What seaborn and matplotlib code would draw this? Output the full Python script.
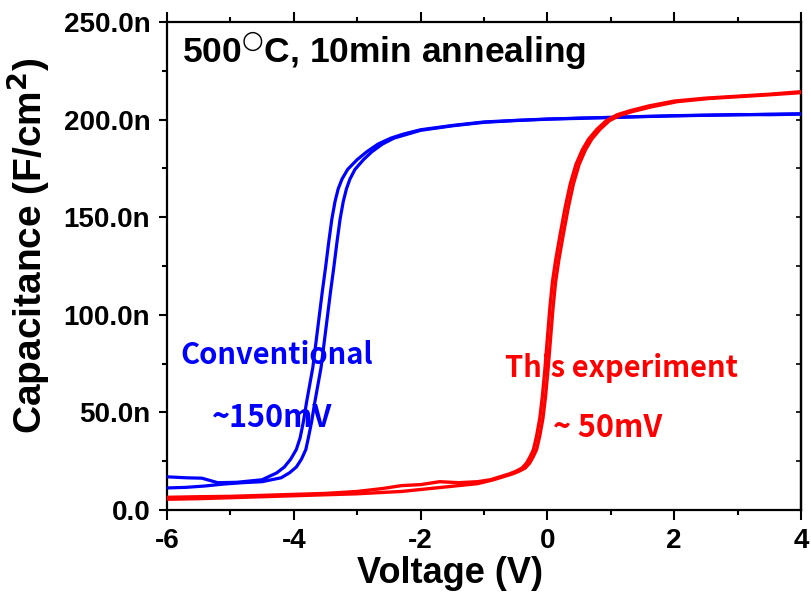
import numpy as np
import pandas as pd
import matplotlib
matplotlib.use("Agg")
import matplotlib.pyplot as plt
from matplotlib.ticker import FixedLocator, FixedFormatter, MultipleLocator
import seaborn as sns

# ---------------- data (capacitance in nF/cm^2) ----------------
blue_a_v = [-6.0, -5.7, -5.45, -5.2, -4.9, -4.5, -4.27, -4.15, -4.05, -3.96, -3.90, -3.85,
            -3.80, -3.75, -3.70, -3.65, -3.60, -3.55, -3.50, -3.45, -3.40, -3.35, -3.30,
            -3.24, -3.15, -3.00, -2.85, -2.67, -2.47, -2.27, -2.0, -1.5, -1.0, -0.5,
            0.0, 0.5, 1.0, 1.5, 2.0, 2.5, 3.0, 3.5, 4.0]
blue_a_c = [17.0, 16.5, 16.3, 14.0, 14.2, 15.5, 19.0, 22.0, 26.0, 31.0, 37.0, 45.0,
            55.0, 64.0, 73.0, 86.0, 99.0, 112.0, 124.0, 137.0, 149.0, 158.0, 164.5,
            169.5, 174.5, 179.5, 183.5, 187.5, 190.5, 192.6, 194.8, 197.0, 198.8, 199.6,
            200.3, 200.6, 201.2, 201.5, 201.9, 202.2, 202.4, 202.8, 203.0]
blue_b_v = [-6.0, -5.7, -5.4, -5.1, -4.8, -4.5, -4.2, -4.07, -3.96, -3.88, -3.81, -3.77,
            -3.72, -3.67, -3.62, -3.57, -3.52, -3.47, -3.42, -3.37, -3.32, -3.27, -3.22,
            -3.17, -3.115, -3.035, -2.90, -2.77, -2.60, -2.42, -2.23, -2.0, -1.5, -1.0,
            -0.5, 0.0, 0.5, 1.0, 1.5, 2.0, 2.5, 3.0, 3.5, 4.0]
blue_b_c = [11.3, 11.6, 12.3, 13.3, 14.0, 14.5, 16.5, 19.0, 22.0, 26.0, 31.0, 37.0,
            45.0, 55.0, 64.0, 73.0, 86.0, 99.0, 112.0, 124.0, 137.0, 149.0, 158.0,
            164.5, 169.5, 174.5, 179.5, 183.5, 187.5, 190.5, 192.3, 194.5, 196.8, 198.6,
            199.5, 200.2, 200.8, 201.0, 201.6, 202.0, 202.3, 202.6, 202.5, 202.8]

red_a_v = [-6.0, -5.5, -5.0, -4.5, -4.0, -3.5, -3.0, -2.6, -2.3, -2.0, -1.7, -1.4, -1.1,
           -0.9, -0.75, -0.6, -0.5, -0.4, -0.33, -0.27, -0.22, -0.17, -0.12, -0.08, -0.04,
           0.0, 0.04, 0.08, 0.13, 0.2, 0.28, 0.36, 0.45, 0.55, 0.65, 0.78, 0.93, 1.1,
           1.3, 1.6, 2.0, 2.5, 3.0, 3.5, 4.0]
red_a_c = [6.5, 6.8, 7.0, 7.5, 8.0, 8.5, 9.5, 11.0, 12.5, 13.0, 14.5, 14.0, 14.5,
           15.5, 17.0, 18.5, 19.8, 21.5, 24.0, 27.5, 31.0, 38.0, 47.0, 58.0, 72.0,
           88.0, 104.0, 117.0, 128.0, 141.0, 155.0, 167.0, 177.0, 184.5, 190.0, 195.0,
           199.5, 202.5, 204.5, 207.0, 209.5, 211.0, 212.0, 213.0, 214.3]
red_b_v = [-6.0, -5.5, -5.0, -4.5, -4.0, -3.5, -3.0, -2.6, -2.3, -2.0, -1.7, -1.4, -1.1,
           -0.85, -0.7, -0.55, -0.45, -0.35, -0.28, -0.22, -0.17, -0.12, -0.07, -0.03, 0.01,
           0.05, 0.09, 0.13, 0.18, 0.25, 0.33, 0.41, 0.5, 0.6, 0.7, 0.83, 0.98, 1.15,
           1.35, 1.65, 2.05, 2.55, 3.05, 3.55, 4.0]
red_b_c = [5.5, 5.8, 6.3, 6.8, 7.3, 7.8, 8.3, 9.0, 9.5, 10.5, 11.5, 12.5, 13.5,
           15.5, 17.0, 18.5, 19.8, 21.5, 24.0, 27.5, 31.0, 38.0, 47.0, 58.0, 72.0,
           88.0, 104.0, 117.0, 128.0, 141.0, 155.0, 167.0, 177.0, 184.5, 190.0, 195.0,
           199.5, 202.3, 204.2, 206.6, 209.2, 210.8, 211.8, 212.8, 213.8]

x_ticks = [-6, -4, -2, 0, 2, 4]
x_tick_labels = ["-6", "-4", "-2", "0", "2", "4"]
y_ticks = [0, 50, 100, 150, 200, 250]
y_tick_labels = ["0.0", "50.0n", "100.0n", "150.0n", "200.0n", "250.0n"]

title_text = r"500$^{\bigcirc}$C, 10min annealing"
label_conv = "Conventional"
label_conv_mv = "~150mV"
label_exp = "This experiment"
label_exp_mv = "~ 50mV"

# ---------------- style ----------------
sns.set_style("ticks")
plt.rcParams["font.family"] = ["Liberation Sans", "DejaVu Sans"]
plt.rcParams["font.weight"] = "bold"
plt.rcParams["axes.linewidth"] = 1.6
for key in ["text.color", "axes.labelcolor", "xtick.color", "ytick.color",
            "axes.edgecolor", "xtick.labelcolor", "ytick.labelcolor"]:
    plt.rcParams[key] = "black"

fig = plt.figure(figsize=(8.12, 6.09), dpi=100)
ax = fig.add_axes([167 / 812, 1 - 510 / 609, 634 / 812, 488 / 609])

def frame(v, c, name):
    return pd.DataFrame({"V": v, "C": c, "branch": name})

blue_df = pd.concat([frame(blue_a_v, blue_a_c, "a"), frame(blue_b_v, blue_b_c, "b")])
red_df = pd.concat([frame(red_a_v, red_a_c, "a"), frame(red_b_v, red_b_c, "b")])

sns.lineplot(data=blue_df, x="V", y="C", units="branch", estimator=None, sort=False,
             color="#0000ff", lw=2.3, ax=ax, zorder=3)
sns.lineplot(data=red_df, x="V", y="C", units="branch", estimator=None, sort=False,
             color="#ff0000", lw=2.4, ax=ax, zorder=3)

ax.set_xlim(-6, 4)
ax.set_ylim(0, 250)
ax.xaxis.set_major_locator(FixedLocator(x_ticks))
ax.xaxis.set_major_formatter(FixedFormatter(x_tick_labels))
ax.xaxis.set_minor_locator(MultipleLocator(1))
ax.yaxis.set_major_locator(FixedLocator(y_ticks))
ax.yaxis.set_major_formatter(FixedFormatter(y_tick_labels))
ax.yaxis.set_minor_locator(MultipleLocator(25))

ax.tick_params(axis="x", which="both", direction="out", top=True, bottom=True,
               width=1.5, labelsize=20, pad=6, color="black", labelcolor="black")
ax.tick_params(axis="x", which="major", length=7)
ax.tick_params(axis="x", which="minor", length=3.5)
ax.tick_params(axis="y", which="both", direction="out", left=True, right=False,
               width=1.5, labelsize=20, pad=6, color="black", labelcolor="black")
ax.tick_params(axis="y", which="major", length=6)
ax.tick_params(axis="y", which="minor", length=3.5)
for lab in ax.get_xticklabels() + ax.get_yticklabels():
    lab.set_fontweight("bold")
for sp in ax.spines.values():
    sp.set_color("black")

sec = ax.secondary_yaxis("right")
sec.yaxis.set_major_locator(FixedLocator(y_ticks))
sec.yaxis.set_minor_locator(MultipleLocator(25))
sec.tick_params(axis="y", which="both", direction="in", length=3.5, width=1.2,
                labelright=False, color="black")
sec.spines["right"].set_linewidth(1.6)
sec.spines["right"].set_color("black")

ax.set_xlabel("Voltage (V)", fontsize=26, fontweight="bold", color="black")
ax.set_ylabel(r"Capacitance (F/cm$^\mathbf{2}$)", fontsize=28, fontweight="bold",
              color="black")
ax.xaxis.set_label_coords(0.446, -0.094)
ax.yaxis.set_label_coords(-0.182, 0.541)

ax.text(0.023, 0.916, title_text, transform=ax.transAxes, fontsize=25.5,
        fontweight="bold", va="baseline", ha="left", color="black")

annot_font = ["Noto Sans CJK KR", "DejaVu Sans"]
ax.text(0.0216, 0.299, label_conv, transform=ax.transAxes, fontsize=21,
        fontweight="bold", family=annot_font, color="#0000ff", va="baseline", zorder=2)
ax.text(0.071, 0.170, label_conv_mv, transform=ax.transAxes, fontsize=22,
        fontweight="bold", family=annot_font, color="#0000ff", va="baseline", zorder=2)
ax.text(0.533, 0.2725, label_exp, transform=ax.transAxes, fontsize=21,
        fontweight="bold", family=annot_font, color="#ff0000", va="baseline", zorder=2)
ax.text(0.609, 0.1496, label_exp_mv, transform=ax.transAxes, fontsize=22,
        fontweight="bold", family=annot_font, color="#ff0000", va="baseline", zorder=2)

fig.savefig("out.png", dpi=100)
